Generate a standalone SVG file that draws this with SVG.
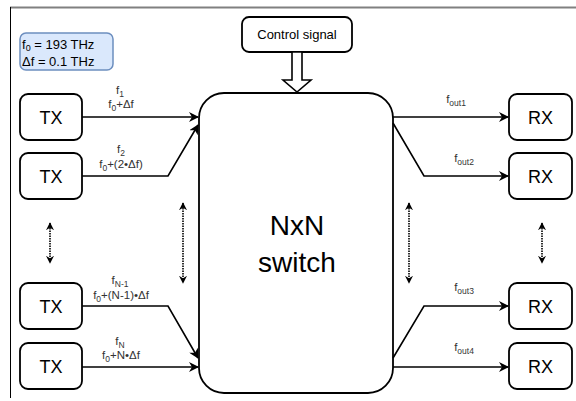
<svg xmlns="http://www.w3.org/2000/svg" width="576" height="401" viewBox="0 0 576 401">
<defs>
<marker id="arr" viewBox="0 0 10 10" refX="9" refY="5" markerWidth="10" markerHeight="10" markerUnits="userSpaceOnUse" orient="auto">
<path d="M0,0 L10,5 L0,10 L3,5 Z" fill="#000"/>
</marker>
<marker id="sm" viewBox="0 0 10 10" refX="9" refY="5" markerWidth="8" markerHeight="8" markerUnits="userSpaceOnUse" orient="auto-start-reverse">
<path d="M0,0 L10,5 L0,10 L3,5 Z" fill="#000"/>
</marker>
<style>
text{font-family:"Liberation Sans",Arial,sans-serif;}
.box{fill:#fff;stroke:#000;stroke-width:1.8;}
.big{font-size:18px;text-anchor:middle;fill:#000;}
.lbl{font-size:11.5px;text-anchor:middle;fill:#333;}
.sub{font-size:8.5px;}
.con{fill:none;stroke:#000;stroke-width:1.6;marker-end:url(#arr);}
.dot{fill:none;stroke:#000;stroke-width:1.6;stroke-dasharray:1.5 1;marker-start:url(#sm);marker-end:url(#sm);}
</style>
</defs>
<rect width="576" height="401" fill="#fff"/>
<g id="frame">
<line x1="10" y1="7.5" x2="576" y2="7.5" stroke="#808080" stroke-width="2"/>
<line x1="10.5" y1="7" x2="10.5" y2="398" stroke="#000" stroke-width="1"/>
</g>
<g id="params">
<rect x="20" y="33" width="93" height="37" rx="6" fill="#dae8fc" stroke="#6c8ebf" stroke-width="1.5"/>
<text x="22" y="49" style="font-size:13px" fill="#000">f<tspan dy="2" style="font-size:9px">0</tspan><tspan dy="-2"> = 193 THz</tspan></text>
<text x="22" y="66" style="font-size:13px" fill="#000">Δf = 0.1 THz</text>
</g>
<g id="control">
<rect class="box" x="242" y="17" width="110" height="35" rx="7"/>
<text x="297" y="39" style="font-size:13px;text-anchor:middle" fill="#000">Control signal</text>
</g>
<g id="control-arrow">
<path d="M292,52 L302,52 L302,80 L311,80 L297,92 L283,80 L292,80 Z" fill="#fff" stroke="#000" stroke-width="1.6"/>
</g>
<g id="switch">
<rect class="box" x="199" y="93" width="194" height="300" rx="25" stroke-width="2"/>
<text x="297" y="235" style="font-size:28px;text-anchor:middle" fill="#000">NxN</text>
<text x="297" y="272" style="font-size:28px;text-anchor:middle" fill="#000">switch</text>
</g>
<g id="tx1"><rect class="box" x="20" y="94" width="62" height="46" rx="8"/><text class="big" x="51" y="124">TX</text></g>
<g id="tx2"><rect class="box" x="20" y="153" width="62" height="46" rx="8"/><text class="big" x="51" y="183">TX</text></g>
<g id="tx3"><rect class="box" x="20" y="283" width="62" height="46" rx="8"/><text class="big" x="51" y="313">TX</text></g>
<g id="tx4"><rect class="box" x="20" y="343" width="62" height="46" rx="8"/><text class="big" x="51" y="373">TX</text></g>
<g id="rx1"><rect class="box" x="509" y="94" width="63" height="46" rx="8"/><text class="big" x="540.5" y="124">RX</text></g>
<g id="rx2"><rect class="box" x="509" y="153" width="63" height="46" rx="8"/><text class="big" x="540.5" y="183">RX</text></g>
<g id="rx3"><rect class="box" x="509" y="283" width="63" height="46" rx="8"/><text class="big" x="540.5" y="313">RX</text></g>
<g id="rx4"><rect class="box" x="509" y="343" width="63" height="46" rx="8"/><text class="big" x="540.5" y="373">RX</text></g>
<g id="connectors">
<path class="con" d="M82,117 L198,117"/>
<path class="con" d="M82,176 L168,176 L198,125"/>
<path class="con" d="M82,306 L168,306 L198,358"/>
<path class="con" d="M82,367 L198,367"/>
<path class="con" d="M393,117 L508,117"/>
<path class="con" d="M393,123 L424,176 L508,176"/>
<path class="con" d="M393,358 L424,306 L508,306"/>
<path class="con" d="M393,367 L508,367"/>
<path class="dot" d="M50,223 L50,263"/>
<path class="dot" d="M183,203 L183,283"/>
<path class="dot" d="M409,203 L409,283"/>
<path class="dot" d="M542,223 L542,263"/>
</g>
<g id="labels">
<text class="lbl" x="120" y="94">f<tspan class="sub" dy="3">1</tspan></text>
<text class="lbl" x="121" y="108">f<tspan class="sub" dy="3">0</tspan><tspan dy="-3">+Δf</tspan></text>
<text class="lbl" x="121" y="153">f<tspan class="sub" dy="3">2</tspan></text>
<text class="lbl" x="121" y="168">f<tspan class="sub" dy="3">0</tspan><tspan dy="-3">+(2•Δf)</tspan></text>
<text class="lbl" x="120" y="284">f<tspan class="sub" dy="3">N-1</tspan></text>
<text class="lbl" x="121" y="299">f<tspan class="sub" dy="3">0</tspan><tspan dy="-3">+(N-1)•Δf</tspan></text>
<text class="lbl" x="120" y="345">f<tspan class="sub" dy="3">N</tspan></text>
<text class="lbl" x="121" y="359">f<tspan class="sub" dy="3">0</tspan><tspan dy="-3">+N•Δf</tspan></text>
<text class="lbl" x="456" y="103">f<tspan class="sub" dy="3">out1</tspan></text>
<text class="lbl" x="464" y="162">f<tspan class="sub" dy="3">out2</tspan></text>
<text class="lbl" x="464" y="291">f<tspan class="sub" dy="3">out3</tspan></text>
<text class="lbl" x="464" y="351">f<tspan class="sub" dy="3">out4</tspan></text>
</g>
</svg>
